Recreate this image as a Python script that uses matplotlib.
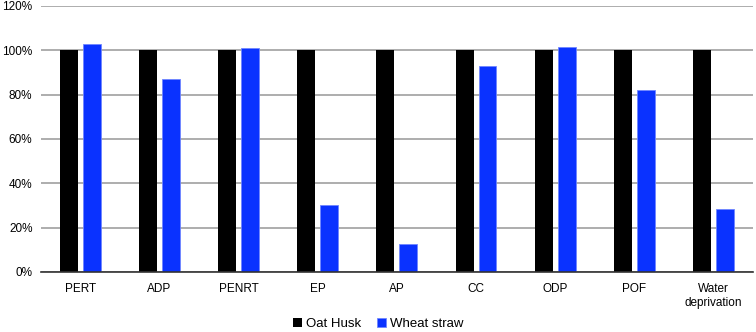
import matplotlib.pyplot as plt
import matplotlib.ticker as ticker
import numpy as np

categories = ['PERT', 'ADP', 'PENRT', 'EP', 'AP', 'CC', 'ODP', 'POF', 'Water\ndeprivation']
oat_husk = [100, 100, 100, 100, 100, 100, 100, 100, 100]
wheat_straw = [103, 87, 101.2, 30, 12.5, 93.1, 101.5, 82, 28.6]

plt.rcParams['font.family'] = ['Liberation Sans', 'DejaVu Sans']
plt.rcParams['font.size'] = 8.5

fig = plt.figure(figsize=(7.56, 3.32), dpi=100)
ax = fig.add_axes([0.054, 0.181, 0.942, 0.801])

x = np.arange(len(categories))
w = 0.227
gap = 0.063
ax.bar(x - (w + gap) / 2, oat_husk, w, color='black', label='Oat Husk', zorder=3)
ax.bar(x + (w + gap) / 2, wheat_straw, w, color='#0a32ff', edgecolor='#6f86ff',
       linewidth=0.6, label='Wheat straw', zorder=3)

ax.set_xlim(-0.5, len(categories) - 0.5)
ax.set_ylim(0, 120)
ax.yaxis.set_major_locator(ticker.MultipleLocator(20))
ax.yaxis.set_major_formatter(ticker.FuncFormatter(lambda v, p: f'{v:.0f}%'))
ax.set_xticks(x)
ax.set_xticklabels(categories)
ax.tick_params(axis='both', length=0, pad=8)
ax.tick_params(axis='y', pad=6)

ax.grid(axis='y', color='#a0a0a0', linewidth=1.2, zorder=0)
for s in ['top', 'right', 'left']:
    ax.spines[s].set_visible(False)
ax.spines['bottom'].set_color('#333333')
ax.spines['bottom'].set_linewidth(1.2)
ax.spines['bottom'].set_zorder(4)

fig.legend(loc='lower center', bbox_to_anchor=(0.5, -0.03), ncol=2, frameon=False,
           handlelength=0.7, handleheight=0.7, handletextpad=0.3, columnspacing=1.2,
           fontsize=9.5)

plt.savefig('out.png', dpi=100)
